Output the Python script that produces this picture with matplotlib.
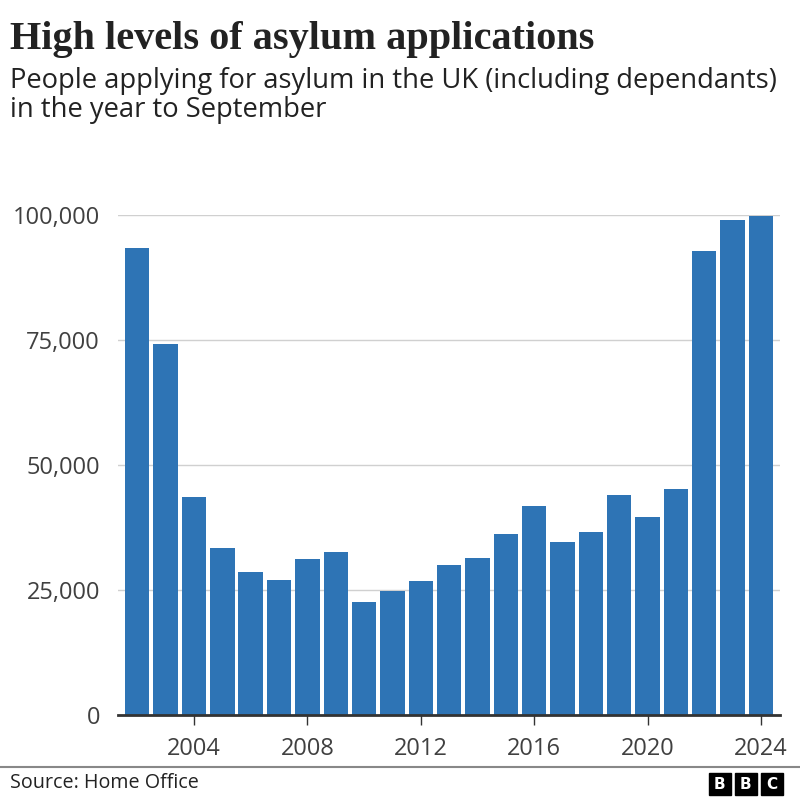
import matplotlib
matplotlib.use("Agg")
import matplotlib.pyplot as plt
from matplotlib.patches import Rectangle
from matplotlib.ticker import FuncFormatter

# data
years = list(range(2002, 2025))
applications = [93500, 74300, 43700, 33500, 28700, 27000, 31300, 32700, 22700,
                24900, 26900, 30100, 31500, 36300, 41900, 34600, 36700, 44100,
                39700, 45300, 92900, 99000, 99900]
year_ticks = [2004, 2008, 2012, 2016, 2020, 2024]
value_ticks = [0, 25000, 50000, 75000, 100000]

title = "High levels of asylum applications"
subtitle = ["People applying for asylum in the UK (including dependants)",
            "in the year to September"]
source = "Source: Home Office"

bar_col = "#2e74b5"
text_col = "#404040"

fig = plt.figure(figsize=(8, 8), dpi=100)
ax = fig.add_axes([0.1475, 0.10625, 0.8275, 0.625])

ax.bar(years, applications, width=0.86, color=bar_col, zorder=3)
ax.set_xlim(2001.32, 2024.67)
ax.set_ylim(0, 100000)

ax.set_yticks(value_ticks)
ax.yaxis.set_major_formatter(FuncFormatter(lambda v, p: f"{int(v):,}"))
ax.set_xticks(year_ticks)
ax.tick_params(axis="y", length=0, pad=13, labelsize=17, labelcolor=text_col)
ax.tick_params(axis="x", length=7, width=1, color="#333333", pad=9,
               labelsize=17, labelcolor=text_col)
for lbl in ax.get_xticklabels() + ax.get_yticklabels():
    lbl.set_family("Open Sans")

ax.grid(axis="y", color="#d0d0d0", lw=1, zorder=0)
ax.axhline(0, color="#333333", lw=2, zorder=4, clip_on=False)
for s in ax.spines.values():
    s.set_visible(False)

# header
fig.text(0.0125, 0.951, title, fontsize=29, family="Liberation Serif",
         weight="bold", color="#222222", va="center")
fig.text(0.0125, 0.899, subtitle[0], fontsize=19.7, family="Open Sans",
         color="#222222", va="center")
fig.text(0.0125, 0.862, subtitle[1], fontsize=19.7, family="Open Sans",
         color="#222222", va="center")

# footer
fig.add_artist(plt.Line2D([0, 1], [0.041, 0.041], color="#888888", lw=1.5))
fig.text(0.0125, 0.021, source, fontsize=14.2, family="Open Sans",
         color="#222222", va="center")
for i, letter in enumerate("BBC"):
    x0 = 0.886 + i * 0.0325
    fig.add_artist(Rectangle((x0, 0.006), 0.0275, 0.0275, color="black",
                             transform=fig.transFigure))
    fig.text(x0 + 0.01375, 0.0198, letter, fontsize=11, weight="bold",
             color="white", ha="center", va="center", family="DejaVu Sans")

fig.savefig("out.png", dpi=100)
